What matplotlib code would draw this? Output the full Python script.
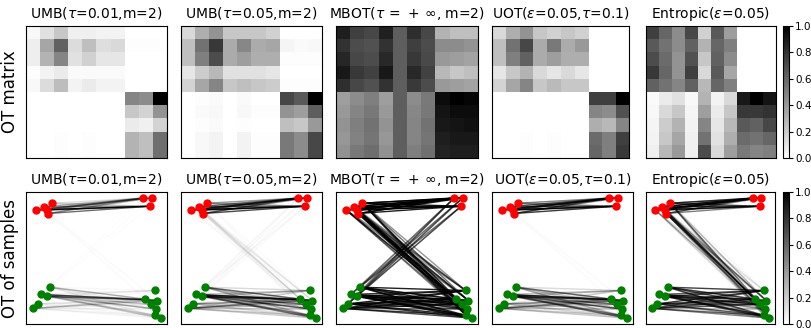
import matplotlib
matplotlib.use('Agg')
import matplotlib.pyplot as plt
import numpy as np
from matplotlib.cm import ScalarMappable
from matplotlib.colors import Normalize

# titles of the five methods
titles = [r'UMB($\tau$=0.01,m=2)',
          r'UMB($\tau$=0.05,m=2)',
          r'MBOT($\tau\,=\,+\,\infty$, m=2)',
          r'UOT($\varepsilon$=0.05,$\tau$=0.1)',
          r'Entropic($\varepsilon$=0.05)']

# sample positions
src_green_x = [0.167, 0.104, 0.146, 0.087, 0.047]
src_green_y = [0.279, 0.224, 0.209, 0.153, 0.118]
src_red_x = [0.071, 0.127, 0.186, 0.146, 0.156]
src_red_y = [0.864, 0.889, 0.915, 0.862, 0.837]
tgt_green_x = [0.913, 0.847, 0.932, 0.884, 0.925, 0.917, 0.955]
tgt_green_y = [0.254, 0.188, 0.178, 0.148, 0.113, 0.065, 0.045]
tgt_red_x = [0.833, 0.892, 0.882]
tgt_red_y = [0.955, 0.955, 0.892]

# transport plans, rows = source (green then red), cols = target (green then red)
plan_umb_001 = [
    [0.03, 0.12, 0.22, 0.06, 0.06, 0.05, 0.05, 0.00, 0.00, 0.00],
    [0.07, 0.35, 0.62, 0.14, 0.25, 0.13, 0.15, 0.01, 0.01, 0.01],
    [0.07, 0.30, 0.48, 0.12, 0.18, 0.10, 0.10, 0.00, 0.00, 0.00],
    [0.01, 0.05, 0.08, 0.02, 0.02, 0.02, 0.02, 0.00, 0.00, 0.00],
    [0.03, 0.14, 0.26, 0.05, 0.08, 0.05, 0.05, 0.00, 0.00, 0.00],
    [0.00, 0.00, 0.00, 0.00, 0.00, 0.00, 0.00, 0.48, 0.45, 1.00],
    [0.00, 0.00, 0.00, 0.00, 0.00, 0.00, 0.00, 0.22, 0.17, 0.42],
    [0.00, 0.00, 0.00, 0.00, 0.00, 0.00, 0.00, 0.08, 0.06, 0.17],
    [0.00, 0.00, 0.01, 0.00, 0.01, 0.00, 0.00, 0.30, 0.25, 0.57],
    [0.00, 0.00, 0.01, 0.00, 0.01, 0.00, 0.00, 0.30, 0.25, 0.57]]

plan_umb_005 = [
    [0.15, 0.32, 0.42, 0.22, 0.22, 0.22, 0.18, 0.00, 0.00, 0.00],
    [0.25, 0.55, 0.78, 0.33, 0.47, 0.33, 0.35, 0.04, 0.02, 0.03],
    [0.25, 0.50, 0.70, 0.33, 0.38, 0.32, 0.32, 0.01, 0.01, 0.01],
    [0.10, 0.20, 0.28, 0.12, 0.12, 0.12, 0.10, 0.00, 0.00, 0.00],
    [0.17, 0.35, 0.48, 0.22, 0.25, 0.22, 0.20, 0.01, 0.01, 0.01],
    [0.00, 0.01, 0.02, 0.00, 0.02, 0.00, 0.00, 0.72, 0.65, 1.00],
    [0.00, 0.02, 0.03, 0.00, 0.03, 0.01, 0.01, 0.42, 0.38, 0.63],
    [0.00, 0.01, 0.02, 0.00, 0.01, 0.00, 0.00, 0.25, 0.22, 0.40],
    [0.00, 0.03, 0.05, 0.00, 0.05, 0.01, 0.01, 0.52, 0.45, 0.72],
    [0.00, 0.03, 0.05, 0.00, 0.05, 0.01, 0.01, 0.52, 0.45, 0.72]]

plan_mbot = [
    [0.88, 0.75, 0.72, 0.87, 0.63, 0.82, 0.72, 0.30, 0.25, 0.25],
    [0.80, 0.70, 0.68, 0.80, 0.63, 0.75, 0.70, 0.45, 0.45, 0.42],
    [0.85, 0.72, 0.70, 0.84, 0.63, 0.78, 0.71, 0.40, 0.38, 0.36],
    [0.90, 0.78, 0.74, 0.90, 0.63, 0.84, 0.74, 0.28, 0.22, 0.25],
    [0.82, 0.72, 0.68, 0.80, 0.63, 0.77, 0.70, 0.40, 0.38, 0.36],
    [0.38, 0.45, 0.50, 0.38, 0.63, 0.45, 0.52, 0.95, 1.00, 0.98],
    [0.40, 0.48, 0.53, 0.40, 0.63, 0.47, 0.53, 0.92, 0.95, 0.95],
    [0.42, 0.50, 0.55, 0.42, 0.63, 0.48, 0.55, 0.90, 0.92, 0.93],
    [0.41, 0.49, 0.54, 0.41, 0.63, 0.48, 0.54, 0.88, 0.90, 0.90],
    [0.43, 0.52, 0.57, 0.43, 0.63, 0.50, 0.56, 0.86, 0.88, 0.88]]

plan_uot = [
    [0.15, 0.32, 0.42, 0.22, 0.18, 0.22, 0.18, 0.00, 0.00, 0.00],
    [0.25, 0.55, 0.72, 0.33, 0.52, 0.33, 0.40, 0.00, 0.00, 0.00],
    [0.25, 0.50, 0.62, 0.33, 0.38, 0.32, 0.32, 0.00, 0.00, 0.00],
    [0.10, 0.22, 0.30, 0.15, 0.10, 0.15, 0.10, 0.00, 0.00, 0.00],
    [0.17, 0.35, 0.48, 0.22, 0.27, 0.22, 0.22, 0.00, 0.00, 0.00],
    [0.00, 0.00, 0.00, 0.00, 0.00, 0.00, 0.00, 0.75, 0.75, 1.00],
    [0.00, 0.00, 0.00, 0.00, 0.00, 0.00, 0.00, 0.48, 0.45, 0.68],
    [0.00, 0.00, 0.00, 0.00, 0.00, 0.00, 0.00, 0.32, 0.28, 0.48],
    [0.00, 0.00, 0.01, 0.00, 0.01, 0.00, 0.00, 0.58, 0.50, 0.75],
    [0.00, 0.00, 0.01, 0.00, 0.01, 0.00, 0.00, 0.60, 0.50, 0.77]]

plan_entropic = [
    [0.75, 0.60, 0.45, 0.72, 0.18, 0.65, 0.38, 0.00, 0.00, 0.00],
    [0.65, 0.55, 0.45, 0.62, 0.30, 0.60, 0.50, 0.00, 0.00, 0.00],
    [0.70, 0.58, 0.42, 0.68, 0.22, 0.62, 0.45, 0.00, 0.00, 0.00],
    [0.78, 0.60, 0.42, 0.75, 0.15, 0.65, 0.35, 0.00, 0.00, 0.00],
    [0.62, 0.55, 0.48, 0.62, 0.28, 0.60, 0.50, 0.00, 0.00, 0.00],
    [0.02, 0.08, 0.12, 0.03, 0.30, 0.05, 0.15, 0.90, 1.00, 0.92],
    [0.03, 0.15, 0.22, 0.04, 0.38, 0.08, 0.22, 0.78, 0.78, 0.80],
    [0.04, 0.20, 0.30, 0.05, 0.48, 0.10, 0.28, 0.65, 0.62, 0.72],
    [0.05, 0.22, 0.35, 0.06, 0.55, 0.12, 0.32, 0.58, 0.55, 0.60],
    [0.06, 0.28, 0.40, 0.06, 0.70, 0.15, 0.38, 0.52, 0.48, 0.50]]

plans = [plan_umb_001, plan_umb_005, plan_mbot, plan_uot, plan_entropic]
cbar_ticks = [0.0, 0.2, 0.4, 0.6, 0.8, 1.0]

xs = np.array(src_green_x + src_red_x)
ys = np.array(src_green_y + src_red_y)
xt = np.array(tgt_green_x + tgt_red_x)
yt = np.array(tgt_green_y + tgt_red_y)

W, H = 812, 328
fig = plt.figure(figsize=(W / 100, H / 100), dpi=100)


def pix_axes(x0, y0, w, h):
    return fig.add_axes([x0 / W, 1 - (y0 + h) / H, w / W, h / H])


top_left = [26, 181, 336, 492, 646]
top_width = [141, 141, 142, 137, 130]
bot_width = [141, 141, 142, 141, 129]

for k, G in enumerate(plans):
    G = np.array(G)

    # OT matrix
    ax = pix_axes(top_left[k], 26, top_width[k], 132)
    im = ax.imshow(G, cmap='gray_r', vmin=0, vmax=1, aspect='auto',
                   interpolation='nearest')
    ax.set_xticks([])
    ax.set_yticks([])
    ax.set_title(titles[k], fontsize=10)
    if k == 0:
        ax.set_ylabel('OT matrix', fontsize=12, labelpad=5)

    # OT of samples
    ax2 = pix_axes(top_left[k], 192, bot_width[k], 132)
    mx = G.max()
    for i in range(G.shape[0]):
        for j in range(G.shape[1]):
            if G[i, j] > 0:
                ax2.plot([xs[i], xt[j]], [ys[i], yt[j]], color='k',
                         alpha=G[i, j] / mx, lw=1)
    ax2.plot(src_red_x, src_red_y, 'o', color='r', ms=5)
    ax2.plot(tgt_red_x, tgt_red_y, 'o', color='r', ms=5)
    ax2.plot(src_green_x, src_green_y, 'o', color='g', ms=5)
    ax2.plot(tgt_green_x, tgt_green_y, 'o', color='g', ms=5)
    ax2.set_xlim(0, 1)
    ax2.set_ylim(0, 1)
    ax2.set_xticks([])
    ax2.set_yticks([])
    ax2.set_title(titles[k], fontsize=10)
    if k == 0:
        ax2.set_ylabel('OT of samples', fontsize=12, labelpad=5)

# colorbars
cax1 = pix_axes(783, 26, 6, 132)
cb1 = fig.colorbar(im, cax=cax1, ticks=cbar_ticks)
cb1.ax.tick_params(labelsize=7.5, length=3, pad=1.5)

cax2 = pix_axes(783, 192, 6, 132)
sm = ScalarMappable(norm=Normalize(0, 1), cmap='gray_r')
cb2 = fig.colorbar(sm, cax=cax2, ticks=cbar_ticks)
cb2.ax.tick_params(labelsize=7.5, length=3, pad=1.5)

plt.savefig('out.png', dpi=100)
